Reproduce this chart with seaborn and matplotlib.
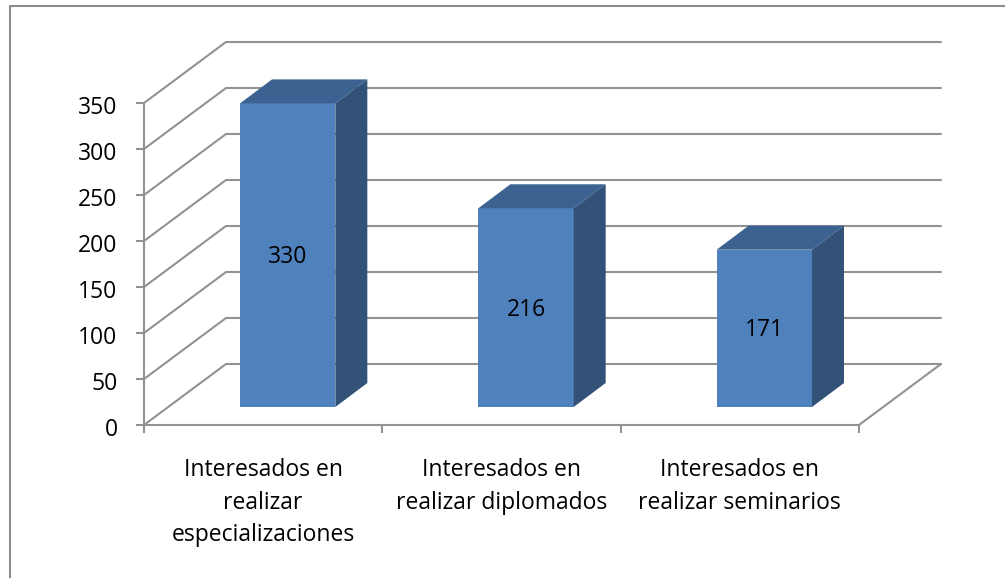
import pandas as pd
import matplotlib
matplotlib.use("Agg")
import matplotlib.pyplot as plt
import seaborn as sns
from matplotlib.lines import Line2D
from matplotlib.patches import Polygon
from matplotlib.transforms import ScaledTranslation

# data
categories = ["Interesados en\nrealizar\nespecializaciones",
              "Interesados en\nrealizar diplomados",
              "Interesados en\nrealizar seminarios"]
values = [330, 216, 171]
y_ticks = [0, 50, 100, 150, 200, 250, 300, 350]

df = pd.DataFrame({"Categoria": categories, "Valor": values})

W, H = 1005, 578
GRID = "#929292"
FRONT = "#4f81bd"
SIDE = "#335277"
TOP = "#3c6291"
FS = 16.5

sns.set_theme(style="white")
plt.rcParams["font.family"] = ["Open Sans", "DejaVu Sans"]

fig = plt.figure(figsize=(W / 100, H / 100), dpi=100)
ax = fig.add_axes([144 / W, 1 - 425 / H, 715 / W, 322 / H])

sns.barplot(x="Categoria", y="Valor", data=df, color=FRONT, saturation=1, width=0.4,
            edgecolor="none", linewidth=0, ax=ax)
ax.set_xlim(-0.5, 2.5)
ax.set_ylim(0, 350)

# pixel sizes in data units
px_x = 3 / 715
px_y = 350 / 322

# depth of the back wall, the bars and their position on the floor
wall_dx, wall_dy = 82 * px_x, 61 * px_y
bar_dx, bar_dy = 32 * px_x, 24 * px_y
shift_x, shift_y = 24.5 * px_x, 18 * px_y

# back wall and grid lines
for t in y_ticks:
    ax.plot([-0.5, -0.5 + wall_dx, 2.5 + wall_dx], [t, t + wall_dy, t + wall_dy],
            color=GRID, lw=1.5, clip_on=False, zorder=1)
ax.plot([2.5, 2.5 + wall_dx], [0, wall_dy], color=GRID, lw=1.5, clip_on=False, zorder=1)

# move bars onto the floor and add top and side faces
for bar in ax.patches:
    bar.set_x(bar.get_x() + shift_x)
    bar.set_y(shift_y)
    bar.set_clip_on(False)
    bar.set_zorder(3)
    x0, x1 = bar.get_x(), bar.get_x() + bar.get_width()
    y0, y1 = bar.get_y(), bar.get_y() + bar.get_height()
    ax.add_patch(Polygon([(x0, y1), (x1, y1), (x1 + bar_dx, y1 + bar_dy), (x0 + bar_dx, y1 + bar_dy)],
                         facecolor=TOP, edgecolor="none", clip_on=False, zorder=3))
    ax.add_patch(Polygon([(x1, y0), (x1 + bar_dx, y0 + bar_dy), (x1 + bar_dx, y1 + bar_dy), (x1, y1)],
                         facecolor=SIDE, edgecolor="none", clip_on=False, zorder=3))

ax.bar_label(ax.containers[0], label_type="center", fontsize=FS, color="black", zorder=5, padding=-1.5)

# axes
sns.despine(ax=ax, top=True, right=True)
for side in ["left", "bottom"]:
    ax.spines[side].set_color(GRID)
    ax.spines[side].set_linewidth(1.5)
    ax.spines[side].set_zorder(2)
ax.set_xlabel("")
ax.set_ylabel("")
ax.set_yticks(y_ticks)
ax.set_xticks([-0.5, 0.5, 1.5, 2.5], minor=True)
ax.tick_params(axis="y", which="major", left=True, length=6, width=1.5, color=GRID, pad=13, labelsize=FS, labelcolor="black")
ax.tick_params(axis="x", which="minor", bottom=True, length=6, width=1.5, color=GRID)
ax.tick_params(axis="x", which="major", bottom=False, length=0, pad=24, labelsize=FS, labelcolor="black")
for label in ax.get_xticklabels():
    label.set_linespacing(1.47)
# y labels sit a little under their ticks
down = ScaledTranslation(0, -2 / 100, fig.dpi_scale_trans)
for label in ax.get_yticklabels():
    label.set_transform(label.get_transform() + down)

# chart frame
fig.add_artist(Line2D([10 / W, 10 / W, 1], [0, 1 - 6 / H, 1 - 6 / H], color="#8c8c8c", lw=1.5))

fig.savefig("out.png", dpi=100)
